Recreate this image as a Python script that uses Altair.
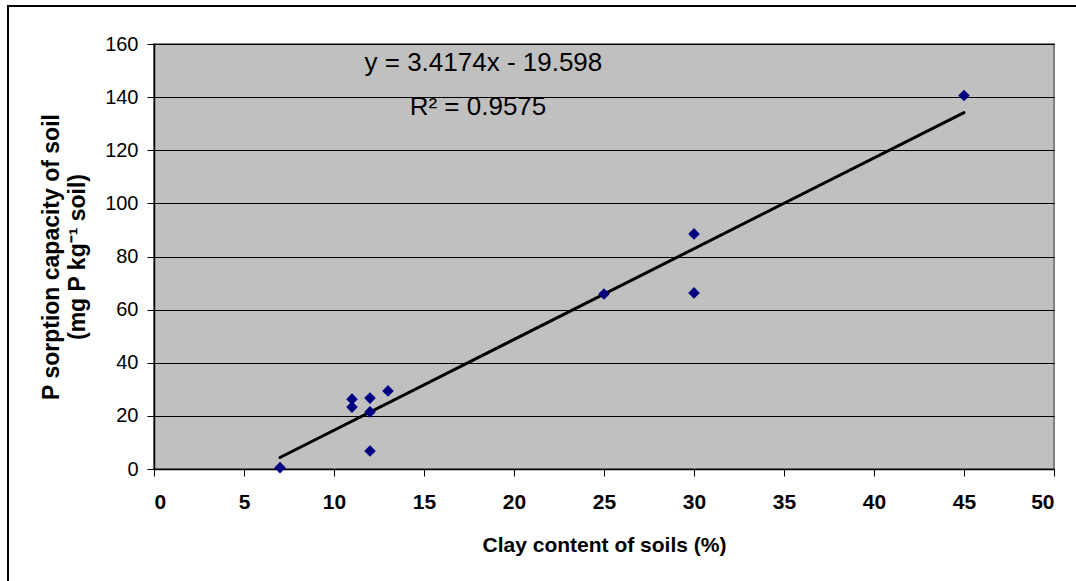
import altair as alt
import pandas as pd

# Clay content (%) and P sorption capacity (mg P kg-1 soil) of the soils
clay = [7, 11, 11, 12, 12, 12, 13, 25, 30, 30, 45]
p_sorption = [0.5, 26.3, 23.3, 26.7, 21.5, 6.8, 29.4, 65.9, 88.5, 66.3, 140.6]

# Linear trend reported on the chart
slope = 3.4174
intercept = -19.598
r_squared = 0.9575

x_ticks = list(range(0, 51, 5))
y_ticks = list(range(0, 161, 20))

W, H = 900, 425

points = pd.DataFrame({"clay": clay, "p": p_sorption})
x_lo, x_hi = min(clay), max(clay)
trend = pd.DataFrame({
    "clay": [x_lo, x_hi],
    "p": [slope * x_lo + intercept, slope * x_hi + intercept],
})
labels = pd.DataFrame({
    "clay": [18.3, 18.0],
    "p": [152.8, 136.3],
    "text": [f"y = {slope}x - {abs(intercept)}", f"R\u00b2 = {r_squared}"],
})

x_scale = alt.Scale(domain=[0, 50], nice=False, zero=False)
y_scale = alt.Scale(domain=[0, 160], nice=False, zero=False)

x_axis = alt.Axis(
    title="Clay content of soils (%)",
    values=x_ticks, grid=False,
    labelFont="Liberation Sans", labelFontSize=21, labelFontWeight="bold",
    labelColor="black", labelPadding=15,
    titleFont="Liberation Sans", titleFontSize=21, titleFontWeight="bold",
    titleColor="black", titlePadding=22,
    domainColor="black", domainWidth=1.5,
    tickColor="black", tickSize=7, tickWidth=1,
)
y_axis = alt.Axis(
    title=["P sorption capacity of soil", "(mg P kg\u207b\u00b9 soil)"],
    values=y_ticks, grid=True, gridColor="black", gridWidth=1,
    labelFont="Liberation Sans", labelFontSize=20,
    labelColor="black", labelPadding=9,
    titleFont="Liberation Sans", titleFontSize=23, titleFontWeight="bold",
    titleColor="black", titlePadding=15, titleLineHeight=26,
    domainColor="black", domainWidth=1.5,
    tickColor="black", tickSize=7, tickWidth=1,
)

frame = alt.Chart(points).mark_rect(
    fill=None, stroke="black", strokeWidth=2
).encode(
    x=alt.value(-146), x2=alt.value(W + 60),
    y=alt.value(-38), y2=alt.value(H + 150),
)

trend_line = alt.Chart(trend).mark_line(
    color="black", strokeWidth=3, strokeCap="round"
).encode(
    x=alt.X("clay:Q", scale=x_scale, axis=x_axis),
    y=alt.Y("p:Q", scale=y_scale, axis=y_axis),
)

dots = alt.Chart(points).mark_point(
    shape="diamond", filled=True, color="#000080", opacity=1, size=135
).encode(
    x=alt.X("clay:Q", scale=x_scale),
    y=alt.Y("p:Q", scale=y_scale),
)

eq_text = alt.Chart(labels).mark_text(
    font="Liberation Sans", fontSize=26, color="black", align="center", baseline="middle"
).encode(
    x=alt.X("clay:Q", scale=x_scale),
    y=alt.Y("p:Q", scale=y_scale),
    text="text:N",
)

chart = alt.layer(frame, trend_line, dots, eq_text).properties(
    width=W, height=H,
    autosize=alt.AutoSizeParams(type="none"),
    padding={"left": 154, "top": 44, "right": 22, "bottom": 112},
    background="white",
).configure_view(
    fill="#C0C0C0", stroke="#808080", strokeWidth=2,
)

chart.save("out.html", embed_options={"renderer": "svg", "actions": False})
